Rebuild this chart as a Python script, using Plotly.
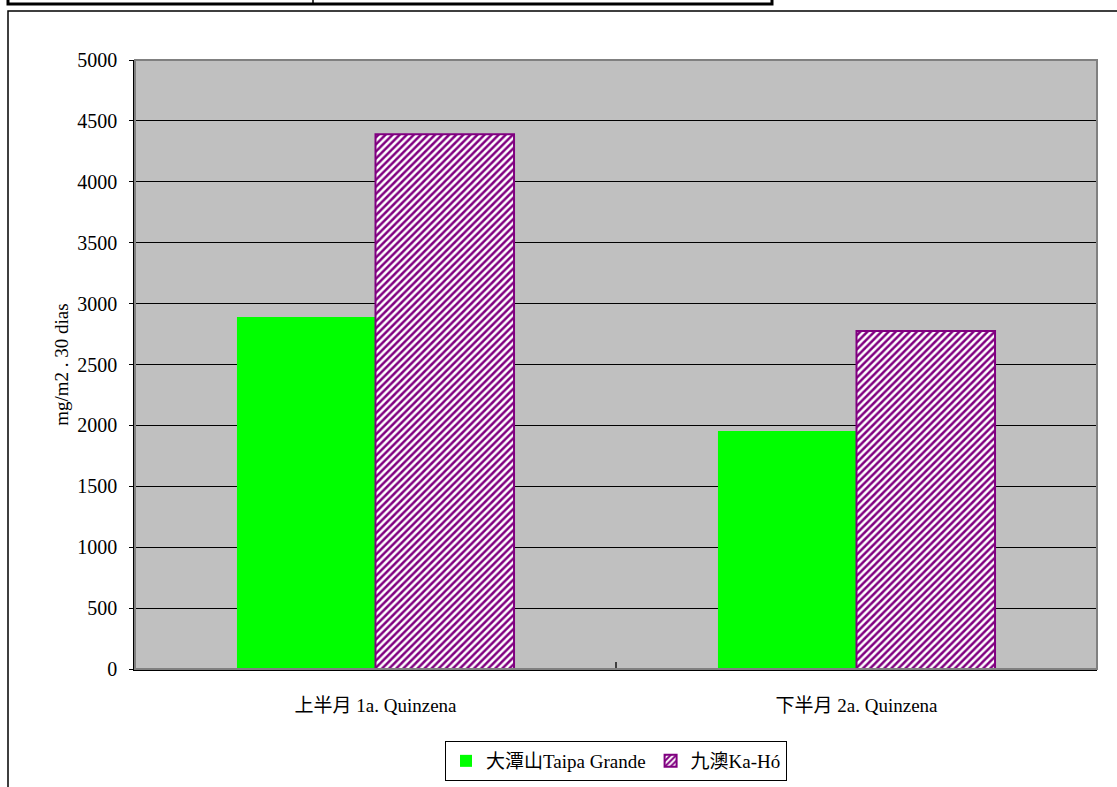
import plotly.graph_objects as go

categories = ["上半月 1a. Quinzena", "下半月 2a. Quinzena"]
series_names = ["大潭山Taipa Grande", "九澳Ka-Hó"]
taipa_values = [2890, 1955]
kaho_values = [4390, 2775]
y_ticks = [0, 500, 1000, 1500, 2000, 2500, 3000, 3500, 4000, 4500, 5000]

FONT = "Liberation Serif, Noto Sans CJK TC, serif"
W, H = 1117, 787
OFF = 0  # page body margin removed via post_script
PL, PR, PT, PB = 135, 1097, 60, 669
L, T = PL - OFF, PT - OFF
R, B = W - (PR - OFF), H - (PB - OFF)
pw, ph = PR - PL, PB - PT


def px(x):
    return (x - PL) / pw


def py(y):
    return (PB - y) / ph


fig = go.Figure()
fig.add_trace(go.Bar(
    x=categories, y=taipa_values, name=series_names[0],
    marker=dict(color="#00FF00", line=dict(width=0)),
))
fig.add_trace(go.Bar(
    x=categories, y=kaho_values, name=series_names[1],
    marker=dict(color="#FFFFFF", line=dict(color="#800080", width=2),
                pattern=dict(shape="/", fgcolor="#800080", bgcolor="#FFFFFF",
                             fgopacity=1, size=5, solidity=0.5)),
))

shapes = [
    dict(type="rect", xref="paper", yref="paper", x0=0, x1=1, y0=0, y1=1,
         line=dict(color="#808080", width=2), layer="above"),
    dict(type="rect", xref="paper", yref="paper", x0=px(8), x1=px(1130),
         y0=py(800), y1=py(11), line=dict(color="#000000", width=1.5)),
    dict(type="rect", xref="paper", yref="paper", x0=px(8), x1=px(772),
         y0=py(4), y1=py(-20), line=dict(color="#000000", width=3)),
    dict(type="line", xref="paper", yref="paper", x0=px(313), x1=px(313),
         y0=py(4), y1=py(-20), line=dict(color="#000000", width=1.5)),
]

fig.update_layout(
    width=W, height=H,
    margin=dict(l=L, r=R, t=T, b=B, autoexpand=False),
    paper_bgcolor="#FFFFFF",
    plot_bgcolor="#C0C0C0",
    barmode="group", bargap=0.424, bargroupgap=0,
    font=dict(family=FONT, size=20, color="#000000"),
    showlegend=True,
    legend=dict(orientation="h", x=0.5, xanchor="center", y=py(741), yanchor="top",
                bordercolor="#000000", borderwidth=1, bgcolor="#FFFFFF",
                font=dict(family=FONT, size=19), itemwidth=30,
                traceorder="normal", tracegroupgap=0),
    shapes=shapes,
    xaxis=dict(showgrid=False, showline=True, linecolor="#000000", linewidth=1.5,
               ticks="inside", ticklen=7, tickcolor="#404040", tickwidth=2,
               tickson="boundaries", tickfont=dict(family=FONT, size=19),
               ticklabelstandoff=18),
    yaxis=dict(range=[0, 5000], tickvals=y_ticks, showgrid=True,
               gridcolor="#000000", gridwidth=1, showline=True,
               linecolor="#000000", linewidth=1.5, ticks="outside", ticklen=4,
               tickcolor="#000000", tickfont=dict(family=FONT, size=20),
               ticklabelstandoff=8, zeroline=False,
               title=dict(text="mg/m2 . 30 dias", font=dict(family=FONT, size=19),
                          standoff=4)),
)

fig.write_html("out.html", config={"displayModeBar": False},
               post_script="document.body.style.margin='0';document.body.style.overflow='hidden';")
